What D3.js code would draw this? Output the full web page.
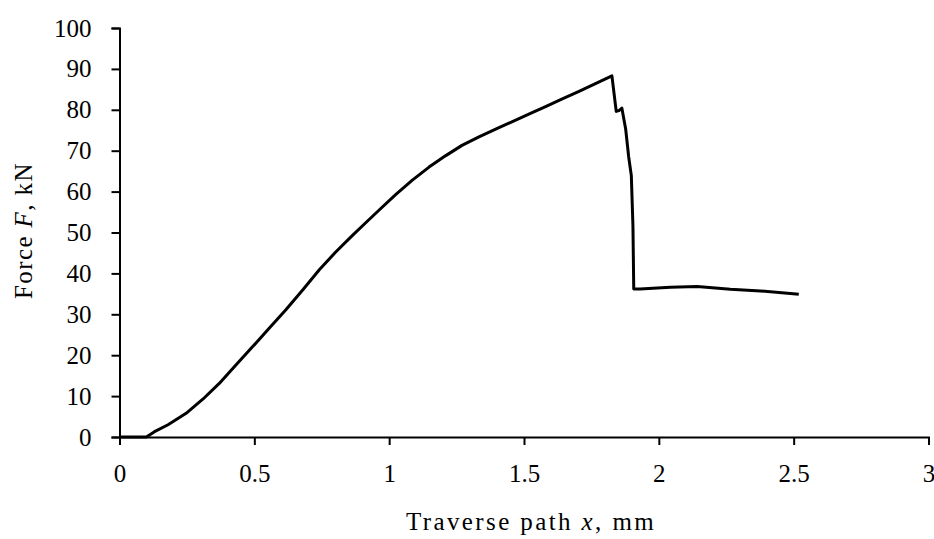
<!DOCTYPE html>
<html>
<head>
<meta charset="utf-8">
<script src="https://cdn.jsdelivr.net/npm/d3@7"></script>
<style>
  body { margin: 0; background: #fff; }
  text { font-family: "Liberation Serif", serif; fill: #000; }
</style>
</head>
<body>
<div id="graph"></div>
<script>
// Traverse path x (mm) and force F (kN)
let pathX = [0, 0.1, 0.111, 0.13, 0.18, 0.247, 0.31, 0.37, 0.43, 0.494, 0.555,
  0.617, 0.68, 0.741, 0.80, 0.864, 0.915, 0.963, 1.025, 1.086, 1.148, 1.21,
  1.27, 1.333, 1.395, 1.457, 1.52, 1.58, 1.64, 1.704, 1.765, 1.826, 1.842,
  1.852, 1.863, 1.877, 1.888, 1.898, 1.904, 1.907, 1.93, 2.043, 2.142, 2.265,
  2.377, 2.519];
let forceF = [0, 0, 0.5, 1.3, 3, 5.8, 9.3, 13.1, 17.5, 22.1, 26.6,
  31.1, 36, 40.9, 45.1, 49.3, 52.5, 55.5, 59.3, 62.8, 66.0, 68.8,
  71.3, 73.4, 75.3, 77.1, 79, 80.8, 82.6, 84.5, 86.4, 88.3, 79.6,
  79.8, 80.4, 75.3, 68.6, 63.9, 51.6, 36.2, 36.2, 36.6, 36.8, 36.1,
  35.7, 34.9];
let xTicks = [0, 0.5, 1, 1.5, 2, 2.5, 3];
let yTicks = [0, 10, 20, 30, 40, 50, 60, 70, 80, 90, 100];

let Graph = () => {
  let margin = {top: 28, right: 5.5, bottom: 102, left: 119.5};
  let width = 934 - margin.left - margin.right;
  let height = 539 - margin.top - margin.bottom;
  let svg = d3
    .select("#graph")
    .append("svg")
    .attr("width", 934)
    .attr("height", 539)
    .append("g")
    .attr("transform", "translate(" + margin.left + "," + margin.top + ")");

  let x = d3.scaleLinear().domain([0, 3]).range([0, width]);
  let y = d3.scaleLinear().domain([0, 100]).range([height, 0]);

  let xAxis = svg.append("g")
    .attr("transform", "translate(0," + height + ")")
    .call(d3.axisBottom(x).tickValues(xTicks).tickSize(8).tickPadding(19)
      .tickFormat(d => d));
  let yAxis = svg.append("g")
    .call(d3.axisLeft(y).tickValues(yTicks).tickSize(8).tickPadding(20));

  [xAxis, yAxis].forEach(a => {
    a.selectAll("path, line").attr("stroke", "#000").attr("stroke-width", 2);
    a.selectAll("text").style("font-size", "25px")
      .style("font-family", "Liberation Serif, serif").attr("fill", "#111");
  });

  let data = pathX.map((d, i) => ({x: d, f: forceF[i]}));
  let line = d3.line().x(d => x(d.x)).y(d => y(d.f));
  svg.append("path")
    .attr("d", line(data))
    .attr("fill", "none")
    .attr("stroke", "#000")
    .attr("stroke-width", 3)
    .attr("stroke-linejoin", "round");

  // axis titles
  let xt = svg.append("text")
    .attr("x", width / 2 + 7)
    .attr("y", height + 93)
    .attr("text-anchor", "middle")
    .attr("fill", "#111")
    .style("letter-spacing", "2.4px")
    .style("font-size", "25px");
  xt.append("tspan").text("Traverse path ");
  xt.append("tspan").attr("font-style", "italic").text("x");
  xt.append("tspan").text(", mm");

  let yt = svg.append("text")
    .attr("transform", "translate(" + (-88) + "," + (y(50) - 2) + ") rotate(-90)")
    .attr("text-anchor", "middle")
    .attr("fill", "#111")
    .style("letter-spacing", "1.4px")
    .style("font-size", "25px");
  yt.append("tspan").text("Force ");
  yt.append("tspan").attr("font-style", "italic").text("F");
  yt.append("tspan").text(", kN");
};
Graph();
</script>
</body>
</html>
